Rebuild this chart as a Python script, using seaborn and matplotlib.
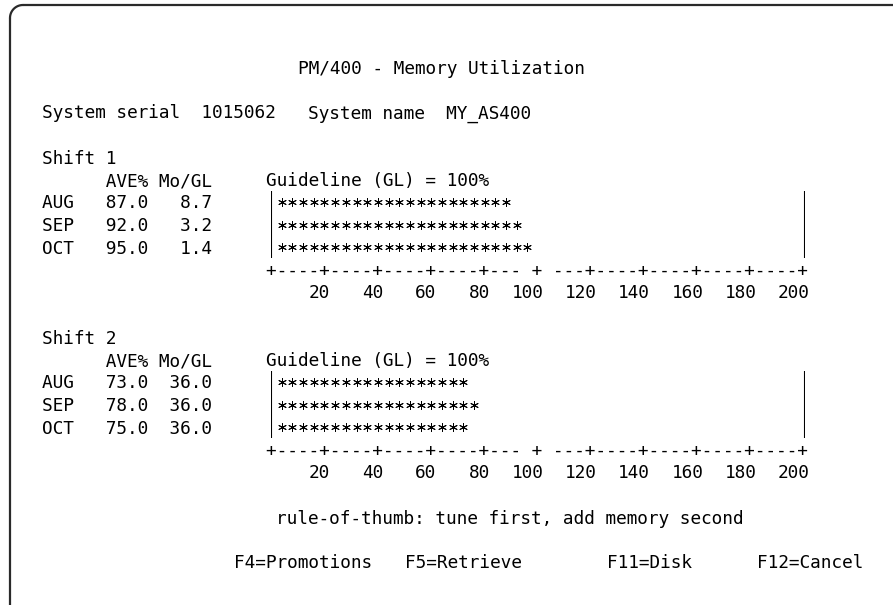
import math
import pandas as pd
import seaborn as sns
import matplotlib.pyplot as plt

# screen content (PM/400 memory utilization panel)
title = "PM/400 - Memory Utilization"
system_serial = "1015062"
system_name = "MY_AS400"
months = ["AUG", "SEP", "OCT"]
shift_names = ["Shift 1", "Shift 2"]
shift1_ave = [87.0, 92.0, 95.0]
shift1_mogl = [8.7, 3.2, 1.4]
shift2_ave = [73.0, 78.0, 75.0]
shift2_mogl = [36.0, 36.0, 36.0]
# length of the * bars as printed (one star = 4 %)
shift1_bar = [88, 92, 96]
shift2_bar = [72, 76, 72]
scale_ticks = [20, 40, 60, 80, 100, 120, 140, 160, 180, 200]
scale_line = "+----+----+----+----+--- + ---+----+----+----+----+"
guideline = 100
footer = "rule-of-thumb: tune first, add memory second"
fkeys = ["F4=Promotions", "F5=Retrieve", "F11=Disk", "F12=Cancel"]
fkey_cols = [20, 36, 55, 69]

# character grid of the 24 x 80 screen, in pixels
W, H = 893, 605
CW, X0 = 10.67, 20.4
ROW, Y0 = 22.5, 67.0
BASE = 6.5  # baseline below row centre
FS = CW / 0.60205 * 0.72  # DejaVu Sans Mono advance -> points


def cx(col):
    return X0 + col * CW


def ry(row):
    return Y0 + row * ROW


sns.set_theme(style="white")
plt.rcParams['font.family'] = ['DejaVu Sans Mono']

fig = plt.figure(figsize=(W / 100, H / 100), dpi=100)
ov = fig.add_axes([0, 0, 1, 1])
ov.set_xlim(0, W)
ov.set_ylim(H, 0)
ov.axis('off')


def put(col, row, s):
    ov.text(cx(col), ry(row) + BASE, s, fontsize=FS, color='black',
            ha='left', va='baseline')


# frame: top and left edge with a rounded corner
ang = [math.radians(a) for a in range(0, 91, 5)]
ov.plot([23, W + 5], [5, 5], color='#2a2a2a', lw=1.6, solid_capstyle='butt')
ov.plot([23 - 13 * math.sin(a) for a in ang], [18 - 13 * math.cos(a) for a in ang],
        color='#2a2a2a', lw=1.6)
ov.plot([10, 10], [18, H + 5], color='#2a2a2a', lw=1.6, solid_capstyle='butt')

put(26, 0, title)
put(2, 2, "System serial  " + system_serial)
put(27, 2, "System name  " + system_name)

shifts = [(shift1_ave, shift1_mogl, shift1_bar), (shift2_ave, shift2_mogl, shift2_bar)]
for k, (ave, mogl, bar) in enumerate(shifts):
    r0 = 4 + 8 * k
    put(2, r0, shift_names[k])
    put(2, r0 + 1, "      AVE% Mo/GL")
    put(23, r0 + 1, f"Guideline (GL) = {guideline}%")
    for i, m in enumerate(months):
        put(2, r0 + 2 + i, f"{m:<6}{ave[i]:4.1f}{mogl[i]:6.1f}")

    # bar chart area: 0..200 % mapped onto columns 23..73
    left, right = cx(23.5), cx(73.5)
    top, bottom = ry(r0 + 2) - ROW / 2, ry(r0 + 4) + ROW / 2
    ax = fig.add_axes([left / W, 1 - bottom / H, (right - left) / W, (bottom - top) / H])
    ax.patch.set_alpha(0)

    stars = pd.DataFrame(
        [(i, x) for i, b in enumerate(bar) for x in range(4, b + 1, 4)],
        columns=['row', 'pct'])
    sns.scatterplot(data=stars, x='pct', y='row', marker=(6, 2, 0), s=32,
                    color='black', linewidth=0.7, legend=False, ax=ax)
    ax.set_xlim(0, 200)
    ax.set_ylim(2.5, -0.5)
    ax.axis('off')
    ax.vlines([0, 200], -0.5, 2.62, color='black', lw=1.5)

    ax.text(-2, 3 + BASE / ROW, scale_line, fontsize=FS, color='black',
            ha='left', va='baseline', clip_on=False)
    for v in scale_ticks:
        ax.text(v + 2, 4 + BASE / ROW, str(v), fontsize=FS, color='black',
                ha='right', va='baseline', clip_on=False)

put(24, 20, footer)
for col, key in zip(fkey_cols, fkeys):
    put(col, 22, key)

fig.savefig('out.png', dpi=100)
